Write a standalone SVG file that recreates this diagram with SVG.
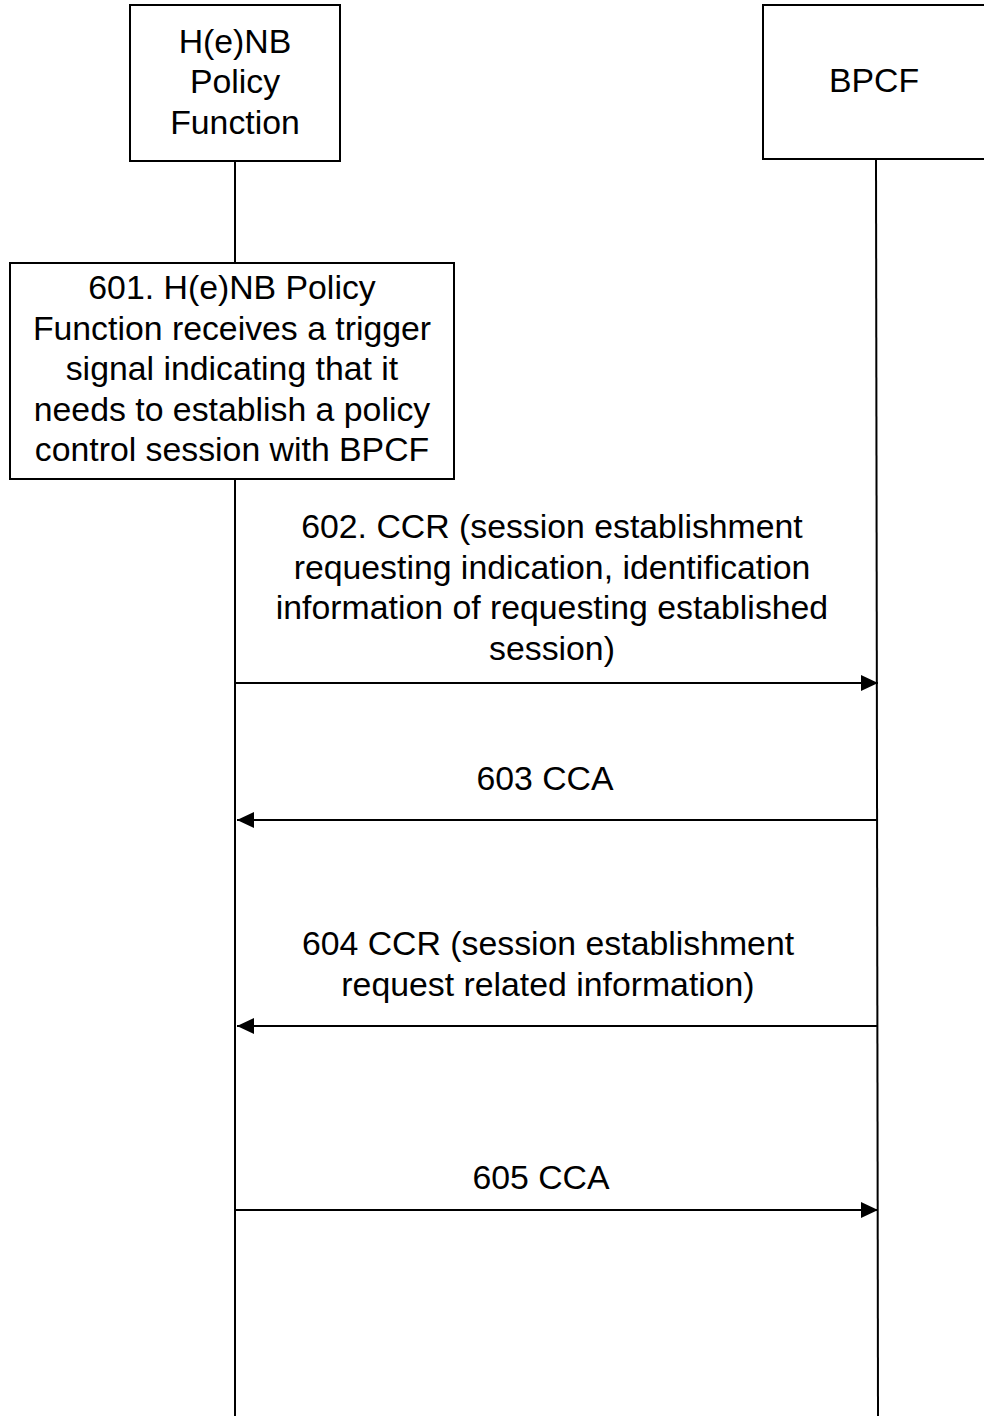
<svg xmlns="http://www.w3.org/2000/svg" width="984" height="1416" viewBox="0 0 984 1416">
  <style>
    .box { fill: #ffffff; stroke: #000000; stroke-width: 2; }
    .life { stroke: #000000; stroke-width: 2; fill: none; }
    .msg { stroke: #000000; stroke-width: 2; fill: none; }
    text { font-family: "Liberation Sans", Arial, sans-serif; font-size: 33.8px; fill: #000000; text-anchor: middle; }
  </style>
  <defs>
    <marker id="arrow" viewBox="0 0 17 16" refX="17" refY="8" markerWidth="17" markerHeight="16" markerUnits="userSpaceOnUse" orient="auto">
      <path d="M0,0 L17,8 L0,16 Z" fill="#000000"/>
    </marker>
  </defs>

  <!-- lifelines -->
  <g id="lifelines">
    <line class="life" x1="235" y1="161" x2="235" y2="1416"/>
    <line class="life" x1="876" y1="159" x2="878" y2="1416"/>
  </g>

  <!-- participant: H(e)NB Policy Function -->
  <g id="henb">
    <rect class="box" x="130" y="5" width="210" height="156"/>
    <text x="235" y="53">H(e)NB</text>
    <text x="235" y="93">Policy</text>
    <text x="235" y="134">Function</text>
  </g>

  <!-- participant: BPCF -->
  <g id="bpcf">
    <rect class="box" x="763" y="5" width="230" height="154"/>
    <text x="874" y="92">BPCF</text>
  </g>

  <!-- step 601 -->
  <g id="step601">
    <rect class="box" x="10" y="263" width="444" height="216"/>
    <text x="232" y="299">601. H(e)NB Policy</text>
    <text x="232" y="340">Function receives a trigger</text>
    <text x="232" y="380">signal indicating that it</text>
    <text x="232" y="421">needs to establish a policy</text>
    <text x="232" y="461">control session with BPCF</text>
  </g>

  <!-- messages -->
  <g id="connectors">
    <line class="msg" x1="235" y1="683" x2="878" y2="683" marker-end="url(#arrow)"/>
    <line class="msg" x1="878" y1="820" x2="237" y2="820" marker-end="url(#arrow)"/>
    <line class="msg" x1="878" y1="1026" x2="237" y2="1026" marker-end="url(#arrow)"/>
    <line class="msg" x1="235" y1="1210" x2="878" y2="1210" marker-end="url(#arrow)"/>
  </g>

  <!-- message labels -->
  <g id="labels">
    <text x="552" y="538">602. CCR (session establishment</text>
    <text x="552" y="579">requesting indication, identification</text>
    <text x="552" y="619">information of requesting established</text>
    <text x="552" y="660">session)</text>
    <text x="545" y="790">603 CCA</text>
    <text x="548" y="955">604 CCR (session establishment</text>
    <text x="548" y="996">request related information)</text>
    <text x="541" y="1189">605 CCA</text>
  </g>
</svg>
